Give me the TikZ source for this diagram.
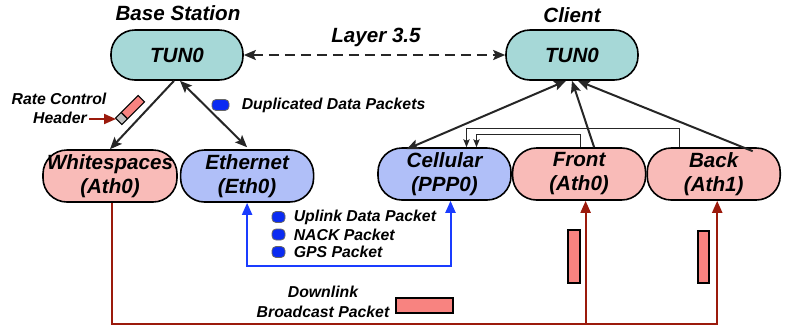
\documentclass[tikz,border=0pt]{standalone}
\usepackage{fontspec}
\setmainfont{Liberation Sans}
\usetikzlibrary{arrows.meta,positioning}
\definecolor{tunfill}{HTML}{A6D8D7}
\definecolor{wififill}{HTML}{F9BBB8}
\definecolor{wirefill}{HTML}{B0BFF8}
\definecolor{pktfill}{HTML}{F88380}
\definecolor{keyblue}{HTML}{0A2BF2}
\definecolor{upblue}{HTML}{1A3CFF}
\definecolor{downred}{HTML}{9B1A0C}

\begin{document}
\begin{tikzpicture}[x=0.5pt,y=-0.5pt,
        big/.style={font=\fontsize{10.3}{12}\selectfont\bfseries\itshape, inner sep=1pt},
        small/.style={font=\fontsize{7.9}{10}\selectfont\bfseries\itshape, inner sep=1pt},
        iface/.style={big, draw=black, line width=0.8pt, rounded corners=12pt,
            minimum width=66.5pt, minimum height=26pt, align=center},
        link/.style={draw=black!85, line width=1pt},
        tip/.style={-{Stealth[length=6pt,width=5pt,inset=1.2pt]}},
        bothtips/.style={{Stealth[length=6pt,width=5pt,inset=1.2pt]}-{Stealth[length=6pt,width=5pt,inset=1.2pt]}},
        thinlink/.style={draw=black!85, line width=0.5pt, -{Stealth[length=4pt,width=3.2pt,inset=0.8pt]}},
        colortip/.style={-{Triangle[length=6pt,width=5pt]}},
        colorboth/.style={{Triangle[length=6pt,width=5pt]}-{Triangle[length=6pt,width=5pt]}},
        pktkey/.style={draw=black!60, line width=0.4pt, fill=keyblue, rounded corners=2pt,
            minimum width=6.5pt, minimum height=5.5pt, inner sep=0pt},
        pkt/.style={draw=black, line width=0.6pt, fill=pktfill}]

            \useasboundingbox (0,0) rectangle (786,328);

            \node at (178,13) [big] {Base Station};
            \node at (572,15) [big] {Client};
            \node at (376,37) [big] {Layer 3.5};

            \node (bsTun) at (177,55) [iface, fill=tunfill, minimum width=66pt, minimum height=25pt] {TUN0};
            \node (clTun) at (572,55) [iface, fill=tunfill, minimum width=66pt, minimum height=25pt] {TUN0};

            \node (white) at (110,176) [iface, fill=wififill, minimum width=67pt] {Whitespaces\\(Ath0)};
            \node (eth) [iface, fill=wirefill, right=1pt of white] {Ethernet\\(Eth0)};
            \node (cell) at (444.5,174) [iface, fill=wirefill] {Cellular\\(PPP0)};
            \node (front) [iface, fill=wififill, right=0pt of cell] {Front\\(Ath0)};
            \node (back) [iface, fill=wififill, right=0pt of front] {Back\\(Ath1)};

            \draw[link, dash pattern=on 5pt off 3pt, bothtips] (bsTun) -- (clTun);

            \draw[link, tip] ([xshift=-1.5pt]bsTun.south) -- (white.north);
            \draw[link, bothtips] ([xshift=1.5pt]bsTun.south) -- ([yshift=1pt]eth.north);

            \draw[link, bothtips] ([xshift=-3pt]clTun.south) -- ([xshift=-19pt,yshift=-1pt]cell.north);
            \draw[link, tip] ([xshift=7.5pt]front.north) -- (clTun.south);
            \draw[link, tip] ([xshift=19.5pt,yshift=-2pt]back.north) -- ([xshift=3pt]clTun.south);

            \draw[thinlink] ([xshift=-17pt]back.north) -- ++(0,-19) -| ([xshift=11pt]cell.north);
            \draw[thinlink] ([xshift=0.5pt]front.north) -- ++(0,-13) -| ([xshift=16pt]cell.north);

            \begin{scope}[shift={(130,110)}, rotate=45]
                \fill[black!25] (-16,-4.5) rectangle (-8,4.5);
                \fill[pktfill] (-8,-4.5) rectangle (16,4.5);
                \draw[line width=0.6pt] (-8,-4.5) -- (-8,4.5);
                \draw[line width=0.6pt] (-16,-4.5) rectangle (16,4.5);
            \end{scope}
            \node (rateTxt) at (59,99) [small] {Rate Control};
            \node (hdrTxt) at (60,118) [small] {Header};
            \coordinate (hdrIn) at (116,119);
            \draw[downred, line width=1pt, colortip] (hdrTxt.east |- hdrIn) -- (hdrIn);

            \node (dupKey) at (220.5,105) [pktkey, minimum width=8.5pt] {};
            \node (dupTxt) [small, right=5pt of dupKey] {Duplicated Data Packets};

            \foreach \txt [count=\i] in {Uplink Data Packet, NACK Packet, GPS Packet} {
                \node (key\i) at (278.5,{199.5+17.5*\i}) [pktkey] {};
                \node (keyTxt\i) [small, right=3pt of key\i] {\txt};
            }

            \draw[upblue, line width=1pt, colorboth] (eth.south) -- ++(0,63) -| ([xshift=3pt]cell.south);

            \coordinate (frontIn) at ([xshift=3.25pt]front.south);
            \coordinate (backIn) at ([xshift=1.75pt]back.south);
            \draw[downred, line width=1pt, colortip] ([xshift=1pt]white.south) -- ++(0,121) coordinate (ground) -| (backIn);
            \draw[downred, line width=1pt, colortip] (ground -| frontIn) -- (frontIn);

            \draw[pkt] (568,230) rectangle (580,283);
            \draw[pkt] (698,231) rectangle (709,283);
            \draw[pkt] (396,298) rectangle (453,313);
            \node (dlTxt) at (323,302) [small, align=center] {Downlink\\Broadcast Packet};

        \end{tikzpicture}
\end{document}
